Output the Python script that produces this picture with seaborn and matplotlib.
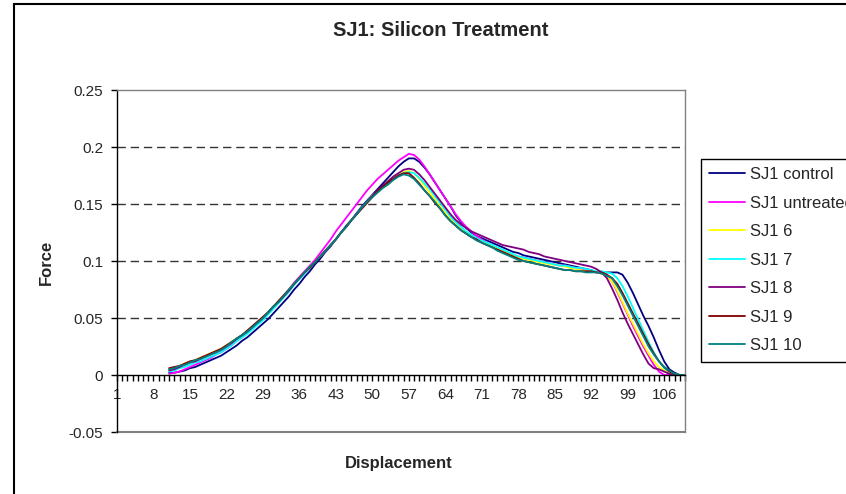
import numpy as np
import pandas as pd
import seaborn as sns
import matplotlib.pyplot as plt
from matplotlib.lines import Line2D
from matplotlib.patches import Rectangle

# displacement categories on the x axis (1..110), readings start at 11
displacement = list(range(1, 111))
first_reading = 11
tick_labels = [str(v) for v in range(1, 110, 7)]

series_names = ["SJ1 control", "SJ1 untreated", "SJ1 6", "SJ1 7", "SJ1 8", "SJ1 9", "SJ1 10"]
series_colors = ["#000080", "#FF00FF", "#FFFF00", "#00FFFF", "#800080", "#800000", "#008080"]

sj1_control = [
    0.002, 0.002, 0.003, 0.004, 0.006, 0.007, 0.009, 0.011, 0.013, 0.015,
    0.017, 0.020, 0.023, 0.026, 0.030, 0.033, 0.037, 0.041, 0.045, 0.049,
    0.054, 0.059, 0.064, 0.069, 0.075, 0.080, 0.086, 0.091, 0.097, 0.102,
    0.108, 0.113, 0.119, 0.125, 0.131, 0.136, 0.142, 0.148, 0.153, 0.158,
    0.163, 0.168, 0.173, 0.178, 0.183, 0.187, 0.190, 0.190, 0.187, 0.182,
    0.176, 0.169, 0.162, 0.155, 0.148, 0.140, 0.134, 0.129, 0.125, 0.122,
    0.120, 0.118, 0.116, 0.114, 0.112, 0.110, 0.108, 0.107, 0.105, 0.104,
    0.103, 0.102, 0.101, 0.100, 0.099, 0.098, 0.097, 0.096, 0.095, 0.094,
    0.093, 0.092, 0.090, 0.090, 0.090, 0.090, 0.090, 0.088, 0.081, 0.072,
    0.062, 0.052, 0.043, 0.033, 0.022, 0.012, 0.005, 0.002, 0.000, 0.000]

sj1_untreated = [
    0.001, 0.002, 0.003, 0.005, 0.007, 0.009, 0.011, 0.013, 0.015, 0.018,
    0.020, 0.023, 0.026, 0.030, 0.033, 0.037, 0.041, 0.045, 0.049, 0.054,
    0.059, 0.064, 0.069, 0.075, 0.081, 0.086, 0.091, 0.096, 0.101, 0.107,
    0.113, 0.119, 0.126, 0.132, 0.138, 0.144, 0.150, 0.156, 0.162, 0.167,
    0.172, 0.176, 0.180, 0.184, 0.188, 0.191, 0.194, 0.193, 0.189, 0.183,
    0.176, 0.169, 0.162, 0.155, 0.148, 0.141, 0.135, 0.130, 0.126, 0.122,
    0.119, 0.116, 0.113, 0.111, 0.109, 0.107, 0.105, 0.104, 0.103, 0.102,
    0.101, 0.100, 0.099, 0.098, 0.097, 0.096, 0.096, 0.095, 0.094, 0.093,
    0.092, 0.091, 0.090, 0.089, 0.087, 0.082, 0.073, 0.063, 0.053, 0.043,
    0.034, 0.025, 0.017, 0.009, 0.003, 0.000, 0.000, 0.000, 0.000, 0.000]

sj1_6 = [
    0.005, 0.006, 0.008, 0.010, 0.011, 0.013, 0.015, 0.017, 0.019, 0.021,
    0.023, 0.026, 0.029, 0.032, 0.035, 0.038, 0.042, 0.046, 0.050, 0.055,
    0.060, 0.064, 0.069, 0.075, 0.080, 0.085, 0.090, 0.095, 0.099, 0.104,
    0.109, 0.114, 0.119, 0.125, 0.130, 0.136, 0.141, 0.147, 0.152, 0.157,
    0.161, 0.165, 0.169, 0.172, 0.175, 0.178, 0.179, 0.177, 0.172, 0.166,
    0.160, 0.154, 0.148, 0.142, 0.137, 0.132, 0.128, 0.125, 0.122, 0.119,
    0.117, 0.115, 0.113, 0.111, 0.109, 0.107, 0.105, 0.103, 0.102, 0.101,
    0.100, 0.099, 0.098, 0.097, 0.097, 0.096, 0.095, 0.094, 0.093, 0.092,
    0.091, 0.091, 0.090, 0.089, 0.087, 0.082, 0.074, 0.064, 0.054, 0.045,
    0.036, 0.027, 0.019, 0.012, 0.007, 0.004, 0.002, 0.001, 0.000, 0.000]

sj1_7 = [
    0.003, 0.004, 0.006, 0.007, 0.009, 0.011, 0.012, 0.014, 0.016, 0.018,
    0.020, 0.023, 0.026, 0.030, 0.033, 0.036, 0.040, 0.044, 0.048, 0.053,
    0.058, 0.063, 0.068, 0.073, 0.079, 0.084, 0.089, 0.094, 0.099, 0.104,
    0.109, 0.114, 0.119, 0.125, 0.130, 0.136, 0.141, 0.147, 0.152, 0.157,
    0.161, 0.165, 0.169, 0.172, 0.175, 0.177, 0.178, 0.177, 0.173, 0.168,
    0.163, 0.157, 0.151, 0.145, 0.139, 0.134, 0.130, 0.126, 0.123, 0.120,
    0.118, 0.116, 0.114, 0.112, 0.110, 0.108, 0.106, 0.104, 0.103, 0.102,
    0.101, 0.100, 0.099, 0.098, 0.097, 0.096, 0.096, 0.095, 0.094, 0.094,
    0.093, 0.092, 0.091, 0.091, 0.090, 0.089, 0.085, 0.078, 0.069, 0.059,
    0.049, 0.039, 0.029, 0.020, 0.012, 0.006, 0.003, 0.001, 0.000, 0.000]

sj1_8 = [
    0.004, 0.005, 0.007, 0.009, 0.011, 0.012, 0.014, 0.016, 0.018, 0.020,
    0.022, 0.025, 0.028, 0.032, 0.035, 0.038, 0.042, 0.046, 0.050, 0.055,
    0.060, 0.064, 0.069, 0.074, 0.080, 0.085, 0.090, 0.095, 0.099, 0.104,
    0.109, 0.114, 0.119, 0.125, 0.130, 0.136, 0.141, 0.147, 0.152, 0.157,
    0.162, 0.166, 0.170, 0.174, 0.177, 0.180, 0.181, 0.180, 0.176, 0.171,
    0.165, 0.159, 0.153, 0.147, 0.141, 0.136, 0.132, 0.129, 0.126, 0.124,
    0.122, 0.120, 0.118, 0.116, 0.114, 0.113, 0.112, 0.111, 0.110, 0.108,
    0.107, 0.106, 0.104, 0.103, 0.102, 0.101, 0.100, 0.099, 0.098, 0.097,
    0.096, 0.095, 0.093, 0.090, 0.085, 0.076, 0.066, 0.055, 0.045, 0.036,
    0.027, 0.018, 0.010, 0.006, 0.005, 0.003, 0.001, 0.000, 0.000, 0.000]

sj1_9 = [
    0.006, 0.007, 0.008, 0.010, 0.012, 0.013, 0.015, 0.017, 0.019, 0.021,
    0.023, 0.026, 0.029, 0.032, 0.035, 0.039, 0.043, 0.047, 0.051, 0.055,
    0.060, 0.065, 0.070, 0.075, 0.080, 0.085, 0.090, 0.094, 0.099, 0.104,
    0.109, 0.114, 0.119, 0.125, 0.130, 0.136, 0.141, 0.146, 0.151, 0.156,
    0.161, 0.165, 0.169, 0.172, 0.175, 0.177, 0.177, 0.173, 0.168, 0.162,
    0.157, 0.151, 0.146, 0.140, 0.135, 0.131, 0.127, 0.124, 0.121, 0.119,
    0.116, 0.114, 0.112, 0.110, 0.108, 0.106, 0.104, 0.102, 0.100, 0.099,
    0.098, 0.097, 0.096, 0.095, 0.094, 0.093, 0.092, 0.092, 0.091, 0.091,
    0.091, 0.091, 0.090, 0.090, 0.088, 0.085, 0.080, 0.072, 0.063, 0.054,
    0.045, 0.036, 0.027, 0.019, 0.012, 0.007, 0.003, 0.001, 0.000, 0.000]

sj1_10 = [
    0.005, 0.006, 0.008, 0.009, 0.011, 0.013, 0.014, 0.016, 0.018, 0.020,
    0.022, 0.025, 0.029, 0.032, 0.035, 0.038, 0.042, 0.046, 0.050, 0.055,
    0.060, 0.064, 0.069, 0.075, 0.080, 0.085, 0.090, 0.095, 0.099, 0.104,
    0.109, 0.114, 0.119, 0.125, 0.130, 0.136, 0.141, 0.147, 0.152, 0.156,
    0.160, 0.164, 0.167, 0.171, 0.174, 0.176, 0.175, 0.172, 0.167, 0.162,
    0.157, 0.152, 0.146, 0.140, 0.135, 0.131, 0.127, 0.124, 0.121, 0.118,
    0.116, 0.114, 0.112, 0.109, 0.107, 0.105, 0.103, 0.101, 0.100, 0.099,
    0.098, 0.097, 0.096, 0.095, 0.094, 0.093, 0.092, 0.092, 0.091, 0.091,
    0.090, 0.090, 0.090, 0.089, 0.087, 0.085, 0.078, 0.070, 0.061, 0.052,
    0.043, 0.034, 0.025, 0.018, 0.012, 0.007, 0.004, 0.001, 0.000, 0.000]

all_series = [sj1_control, sj1_untreated, sj1_6, sj1_7, sj1_8, sj1_9, sj1_10]

# long form table for seaborn
x_vals = displacement[first_reading - 1:]
frames = []
for name, vals in zip(series_names, all_series):
    frames.append(pd.DataFrame({"Displacement": x_vals, "Force": vals, "Series": name}))
df = pd.concat(frames, ignore_index=True)

sns.set_style("white")
plt.rcParams["font.family"] = ["Liberation Sans", "DejaVu Sans"]

W, H = 846, 494
fig = plt.figure(figsize=(W / 100, H / 100), dpi=100)
ax = fig.add_axes([117 / W, 1 - 432 / H, (685 - 117) / W, (432 - 90) / H])

sns.lineplot(data=df, x="Displacement", y="Force", hue="Series", hue_order=series_names,
             palette=series_colors, estimator=None, linewidth=1.3, legend=False, ax=ax)

ax.set_xlim(1, 110)
ax.set_ylim(-0.05, 0.25)
ax.set_xlabel("")
ax.set_ylabel("")

# y axis
yticks = [-0.05, 0, 0.05, 0.1, 0.15, 0.2, 0.25]
ax.set_yticks(yticks)
ax.set_yticklabels(["-0.05", "0", "0.05", "0.1", "0.15", "0.2", "0.25"])
ax.tick_params(axis="y", direction="out", length=4, width=1, color="black",
               labelsize=11, pad=6, left=True)

# category axis: a tick at every category, label every 7th
ax.set_xticks(displacement, minor=True)
ax.set_xticks([int(t) for t in tick_labels])
ax.set_xticklabels(tick_labels)
ax.tick_params(axis="x", which="both", direction="out", length=4, width=1,
               color="black", bottom=True)
ax.tick_params(axis="x", which="major", labelsize=11, pad=5)

# dashed gridlines inside the plot area only
ax.grid(axis="y", linestyle=(0, (6, 3.5)), color="#333333", linewidth=1)
for v, gl in zip(yticks, ax.get_ygridlines()):
    if v in (-0.05, 0, 0.25):
        gl.set_visible(False)

ax.spines["bottom"].set_position(("data", 0))
ax.spines["bottom"].set_color("black")
ax.spines["left"].set_color("black")
ax.spines["top"].set_color("#808080")
ax.spines["right"].set_color("#808080")
for s in ax.spines.values():
    s.set_linewidth(1)
ax.axhline(-0.05, color="#808080", linewidth=1.5, clip_on=False)

fig.text(441 / W, 1 - 30 / H, "SJ1: Silicon Treatment", ha="center", va="center",
         fontsize=14.5, fontweight="bold")
fig.text(399 / W, 1 - 463 / H, "Displacement", ha="center", va="center",
         fontsize=12, fontweight="bold")
fig.text(46 / W, 1 - 262 / H, "Force", ha="center", va="center", rotation=90,
         fontsize=12, fontweight="bold")

# legend (runs off the right edge, as in the original)
handles = [Line2D([], [], color=c, linewidth=1.3) for c in series_colors]
leg = ax.legend(handles, series_names, loc="upper left",
                bbox_to_anchor=(701 / W, 1 - 159 / H), bbox_transform=fig.transFigure,
                borderaxespad=0, fontsize=12, handlelength=2.15, handletextpad=0.28,
                labelspacing=0.81, borderpad=0.5, fancybox=False, framealpha=1)
leg.get_frame().set_edgecolor("black")
leg.get_frame().set_linewidth(1)

# chart border
fig.add_artist(Rectangle((14 / W, -0.1), 1.2, 1 - 4 / H + 0.1, transform=fig.transFigure,
                         fill=False, edgecolor="black", linewidth=1.5))

fig.savefig("out.png", dpi=100)
